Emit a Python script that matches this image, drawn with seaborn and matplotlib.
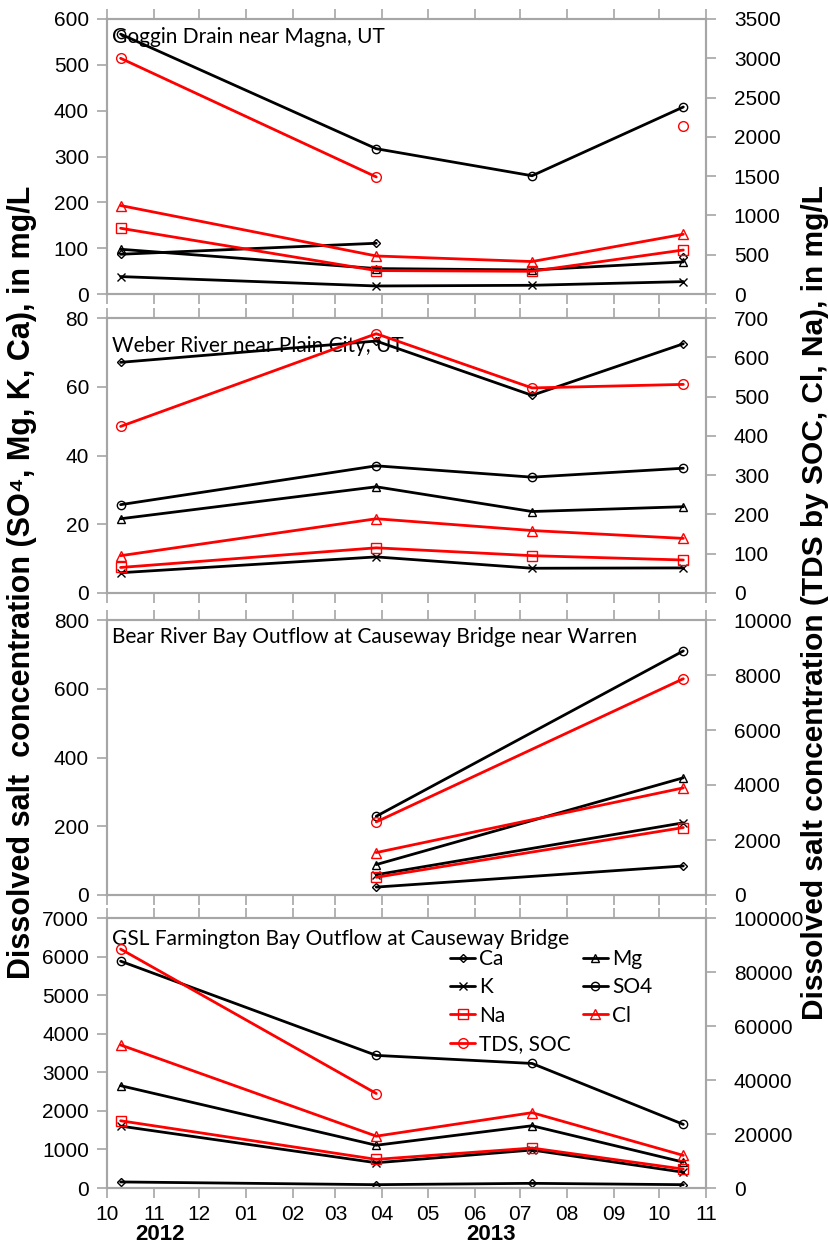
import numpy as np
import pandas as pd
import matplotlib
matplotlib.use("Agg")
import matplotlib.pyplot as plt
import matplotlib.dates as mdates
import seaborn as sns

# ---------------- data ----------------
sample_dates = ["2012-10-10", "2013-03-28", "2013-07-09", "2013-10-17"]
bear_dates = ["2013-03-28", "2013-10-17"]

# Goggin Drain near Magna, UT
goggin_ca = [86.7, 110.7, np.nan, 80.8]
goggin_mg = [97.6, 55.5, 52.4, 70.0]
goggin_k = [38.0, 17.5, 19.0, 27.0]
goggin_so4 = [567.0, 317.0, 258.0, 408.0]
goggin_na = [837.0, 298.0, 289.0, 560.0]
goggin_cl = [1126.0, 484.0, 413.0, 760.0]
goggin_tds = [3000.0, 1490.0, np.nan, 2140.0]

# Weber River near Plain City, UT
weber_ca = [67.1, 73.3, 57.5, 72.5]
weber_mg = [21.6, 30.9, 23.7, 25.1]
weber_k = [5.9, 10.5, 7.2, 7.3]
weber_so4 = [25.7, 37.0, 33.7, 36.3]
weber_na = [65.0, 115.0, 95.0, 84.0]
weber_cl = [95.0, 189.0, 159.0, 139.0]
weber_tds = [424.0, 660.0, 522.0, 531.0]

# Bear River Bay Outflow at Causeway Bridge near Warren
bear_ca = [23.0, 84.5]
bear_mg = [88.5, 341.0]
bear_k = [59.0, 210.0]
bear_so4 = [229.0, 710.0]
bear_na = [644.0, 2453.0]
bear_cl = [1543.0, 3895.0]
bear_tds = [2658.0, 7864.0]

# GSL Farmington Bay Outflow at Causeway Bridge
gsl_ca = [157.0, 86.0, 121.0, 86.0]
gsl_mg = [2653.0, 1108.0, 1614.0, 671.0]
gsl_k = [1605.0, 654.0, 985.0, 409.0]
gsl_so4 = [5881.0, 3438.0, 3229.0, 1650.0]
gsl_na = [24900.0, 10600.0, 14800.0, 7000.0]
gsl_cl = [52980.0, 19200.0, 27900.0, 12080.0]
gsl_tds = [88500.0, 35000.0, np.nan, np.nan]

panel_titles = ["Goggin Drain near Magna, UT",
                "Weber River near Plain City, UT",
                "Bear River Bay Outflow at Causeway Bridge near Warren",
                "GSL Farmington Bay Outflow at Causeway Bridge"]
left_series_names = ["Ca", "Mg", "K", "SO4"]
right_series_names = ["Na", "Cl", "TDS, SOC"]
left_ylims = [(0, 600, 100), (0, 80, 20), (0, 800, 200), (0, 7000, 1000)]
right_ylims = [(0, 3500, 500), (0, 700, 100), (0, 10000, 2000), (0, 100000, 20000)]
month_labels_fmt = "%m"
year_labels = ["2012", "2013"]
year_label_dates = ["2012-11-05", "2013-06-12"]

panels = [
    (sample_dates, [goggin_ca, goggin_mg, goggin_k, goggin_so4], [goggin_na, goggin_cl, goggin_tds]),
    (sample_dates, [weber_ca, weber_mg, weber_k, weber_so4], [weber_na, weber_cl, weber_tds]),
    (bear_dates, [bear_ca, bear_mg, bear_k, bear_so4], [bear_na, bear_cl, bear_tds]),
    (sample_dates, [gsl_ca, gsl_mg, gsl_k, gsl_so4], [gsl_na, gsl_cl, gsl_tds]),
]

# ---------------- style ----------------
sns.set_style("ticks")
plt.rcParams["font.family"] = ["Liberation Sans", "DejaVu Sans"]
plt.rcParams["xtick.labelcolor"] = "black"
plt.rcParams["ytick.labelcolor"] = "black"
plt.rcParams["text.color"] = "black"
SPINE = "#a6a6a6"
left_styles = {"Ca": ("D", 4.0), "Mg": ("^", 6.0), "K": ("x", 6.0), "SO4": ("o", 6.0)}
right_styles = {"Na": ("s", 6.5), "Cl": ("^", 7.0), "TDS, SOC": ("o", 7.0)}

fig = plt.figure(figsize=(8.29, 12.47), dpi=100)
x0, w = 107 / 829, 599 / 829
tops = [19, 318, 620, 918]
bottoms = [294, 593, 895, 1188]


def draw_series(ax, dates, vals, color, marker, ms):
    df = pd.DataFrame({"date": pd.to_datetime(dates), "val": vals})
    ok = df["val"].notna()
    seg_id = (~ok).cumsum()
    handle = None
    for _, seg in df[ok].groupby(seg_id[ok]):
        sns.lineplot(data=seg, x="date", y="val", ax=ax, color=color, marker=marker,
                     markersize=ms, markerfacecolor="none", markeredgecolor=color,
                     markeredgewidth=1.0, linewidth=2.0, estimator=None, legend=False)
        if handle is None:
            handle = ax.lines[-1]
    return handle


def style_axis(ax):
    for s in ax.spines.values():
        s.set_color(SPINE)
        s.set_linewidth(1.5)
        s.set_visible(True)
    ax.tick_params(axis="both", which="major", color=SPINE, width=1.2, length=7,
                   labelsize=15, labelcolor="black", direction="out")


handles = {}
xmin, xmax = pd.Timestamp("2012-10-01"), pd.Timestamp("2013-11-01")
for i, (dates, lvals, rvals) in enumerate(panels):
    ax = fig.add_axes([x0, 1 - bottoms[i] / 1247, w, (bottoms[i] - tops[i]) / 1247])
    axr = ax.twinx()
    for name, vals in zip(left_series_names, lvals):
        m, ms = left_styles[name]
        h = draw_series(ax, dates, vals, "black", m, ms)
        handles.setdefault(name, h)
    for name, vals in zip(right_series_names, rvals):
        m, ms = right_styles[name]
        h = draw_series(axr, dates, vals, "#ff0000", m, ms)
        handles.setdefault(name, h)

    lo, hi, st = left_ylims[i]
    ax.set_ylim(lo, hi)
    ax.set_yticks(np.arange(lo, hi + st / 2, st))
    lo, hi, st = right_ylims[i]
    axr.set_ylim(lo, hi)
    axr.set_yticks(np.arange(lo, hi + st / 2, st))
    ax.set_xlim(xmin, xmax)
    ax.xaxis.set_major_locator(mdates.MonthLocator())
    ax.xaxis.set_major_formatter(mdates.DateFormatter(month_labels_fmt))
    ax.set_xlabel("")
    ax.set_ylabel("")
    axr.set_ylabel("")
    style_axis(ax)
    style_axis(axr)
    ax.tick_params(axis="x", top=True, bottom=True, labelbottom=(i == 3), pad=5)
    ax.tick_params(axis="y", pad=6)
    axr.tick_params(axis="y", pad=13)

    title_offsets = [18, 28, 17, 21]
    ax.text(0.008, 1 - title_offsets[i] / (bottoms[i] - tops[i]), panel_titles[i],
            transform=ax.transAxes, ha="left", va="center", fontsize=15,
            family=["Lato", "DejaVu Sans"], color="black", zorder=5)

    if i == 3:
        order = ["Ca", "K", "Na", "TDS, SOC", "Mg", "SO4", "Cl"]
        axr.legend([handles[k] for k in order], order, ncol=2, loc="upper left",
                   bbox_to_anchor=(0.573, 0.885), frameon=False,
                   prop={"family": ["Lato", "DejaVu Sans"], "size": 15},
                   handlelength=1.2, handletextpad=0.2, columnspacing=0.55,
                   labelspacing=0.4, borderpad=0, borderaxespad=0)
        for yl, yd in zip(year_labels, year_label_dates):
            ax.annotate(yl, xy=(mdates.date2num(pd.Timestamp(yd)), -0.172),
                        xycoords=("data", "axes fraction"), ha="center", va="center",
                        fontsize=16, fontweight="bold", color="black")

fig.text(22 / 829, 1 - 582 / 1247, "Dissolved salt  concentration (SO\u2074, Mg, K, Ca), in mg/L",
         rotation=90, ha="center", va="center", fontsize=22, fontweight="bold",
         family=["Liberation Sans", "DejaVu Sans"], color="black")
fig.text(815 / 829, 1 - 603 / 1247, "Dissolved salt concentration (TDS by SOC, Cl, Na), in mg/L",
         rotation=90, ha="center", va="center", fontsize=21.5, fontweight="bold",
         family=["Liberation Sans", "DejaVu Sans"], color="black")

fig.savefig("out.png", dpi=100)
